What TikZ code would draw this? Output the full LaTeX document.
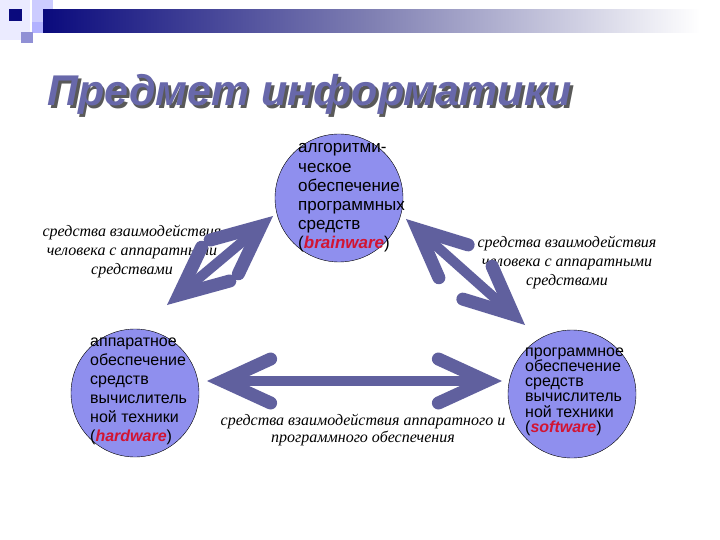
\documentclass[tikz,border=0pt]{standalone}
\usepackage{fontspec}
\setmainfont{Liberation Serif}
\setsansfont{Liberation Sans}
\usetikzlibrary{arrows.meta}

\definecolor{discblue}{RGB}{143,143,238}
\definecolor{arrowblue}{RGB}{96,96,158}
\definecolor{titleblue}{RGB}{104,104,170}
\definecolor{navy}{RGB}{10,10,125}
\definecolor{warered}{RGB}{210,20,50}
\newcommand{\warename}[1]{(\textcolor{warered}{\textbf{\textit{#1}}})}

\tikzset{
  disc/.style={circle,draw=black,fill=discblue,minimum size=128pt,inner sep=0pt},
  disctext/.style={align=left,anchor=north west,inner sep=0pt},
  note/.style={font=\itshape\fontsize{16}{19}\selectfont,align=center,inner sep=0pt},
  barb/.tip={Straight Barb[length=48pt,width=44pt,line width=13pt,line cap=round]},
  bigarrow/.style={draw=arrowblue,line width=10pt,{barb}-{barb}}
}

\begin{document}
\begin{tikzpicture}[x=1pt,y=-1pt]
\useasboundingbox (0,0) rectangle (720,540);
\fill[white] (0,0) rectangle (720,540);

% banner
\fill[blue!8!white] (0,0) rectangle (30,40);
\fill[blue!20!white] (32,0) rectangle (53,22);
\fill[blue!30!white] (32,22) rectangle (43,33);
\fill[blue!45!gray!60!white] (21,32) rectangle (33,43);
\fill[navy] (9,9) rectangle (22,21);
\shade[left color=navy,right color=white,middle color=blue!25!gray!80!white] (43,10) rectangle (700,33);

% title
\node[anchor=base west,text=gray!70!black,font=\sffamily\bfseries\itshape\fontsize{43}{43}\selectfont] (titleshadow) at (46.5,108.5) {Предмет информатики};
\node[anchor=base west,text=titleblue,font=\sffamily\bfseries\itshape\fontsize{43}{43}\selectfont] (title) at (44,106) {Предмет информатики};

% circles
\node[disc] (brain) at (339,198) {};
\node[disc] (hard) at (135,393) {};
\node[disc] (soft) at (572,394) {};

\node[disctext,font=\sffamily\fontsize{17}{19.2}\selectfont] (braintext) at (298,143.5)
  {алгоритми-\\ческое\\обеспечение\\программных\\средств\\\warename{brainware}};
\node[disctext,font=\sffamily\fontsize{16}{19}\selectfont] (hardtext) at (90,337.5)
  {аппаратное\\обеспечение\\средств\\вычислитель\\ной техники\\\warename{hardware}};
\node[disctext,font=\sffamily\fontsize{16}{15.2}\selectfont] (softtext) at (525,347.5)
  {программное\\обеспечение\\средств\\вычислитель\\ной техники\\\warename{software}};

% labels
\node[note] (leftnote) at (132,252) {средства взаимодействия\\человека с аппаратными\\средствами};
\node[note] (rightnote) at (567,263) {средства взаимодействия\\человека с аппаратными\\средствами};
\node[note,font=\itshape\fontsize{16}{17}\selectfont] (bottomnote) at (363,430) {средства взаимодействия аппаратного и\\программного обеспечения};

% arrows
\coordinate (lefttop) at (273,216);
\coordinate (leftbot) at (167,305);
\coordinate (righttop) at (406,219);
\coordinate (rightbot) at (525,325);
\coordinate (midleft) at (207,381);
\coordinate (midright) at (502,381);
\draw[bigarrow] (leftbot) -- (lefttop);
\draw[bigarrow] (righttop) -- (rightbot);
\draw[bigarrow] (midleft) -- (midright);
\end{tikzpicture}
\end{document}
